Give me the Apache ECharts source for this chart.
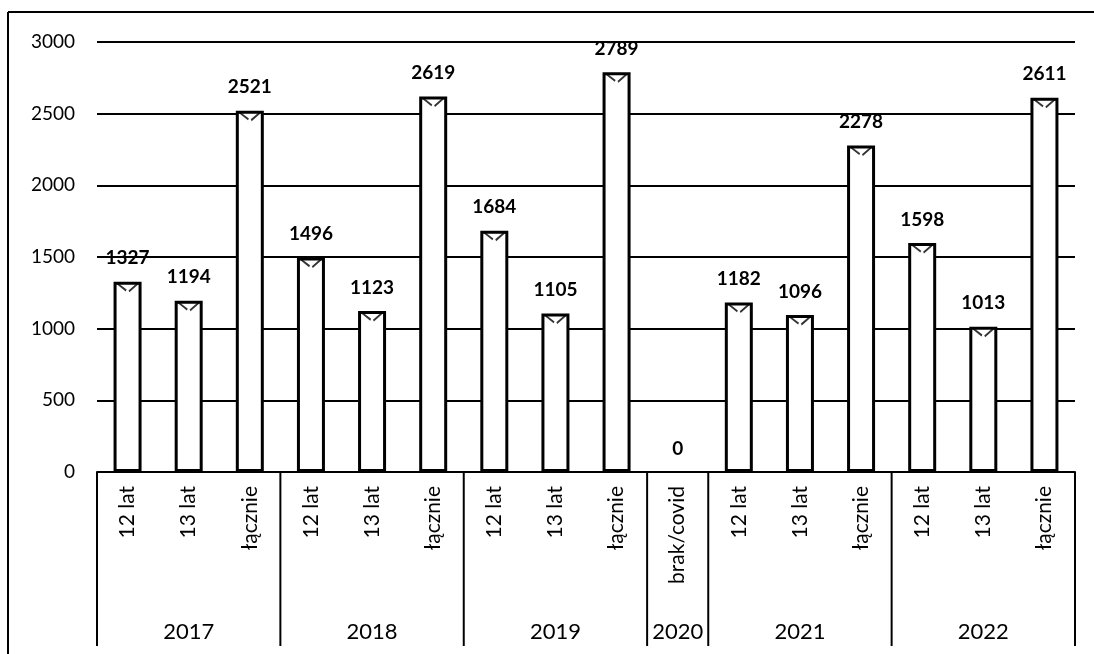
<!DOCTYPE html>
<html><head><meta charset="utf-8">
<script src="https://cdn.jsdelivr.net/npm/echarts@6/dist/echarts.min.js"></script>
<style>html,body{margin:0;padding:0;background:#fff}#c{width:1094px;height:654px}</style>
</head><body><div id="c"></div>
<script>
const subLabels = ['12 lat','13 lat','łącznie','12 lat','13 lat','łącznie','12 lat','13 lat','łącznie','brak/covid','12 lat','13 lat','łącznie','12 lat','13 lat','łącznie'];
const values = [1327,1194,2521,1496,1123,2619,1684,1105,2789,0,1182,1096,2278,1598,1013,2611];
const groups = ['2017','2018','2019','2020','2021','2022'];
const groupSizes = [3,3,3,1,3,3];
const yTicks = [0,500,1000,1500,2000,2500,3000];

const FONT = 'Lato, "Open Sans", sans-serif';
const chart = echarts.init(document.getElementById('c'));
const cats = subLabels.map((s,i)=>i+'|'+s);

chart.setOption({
  animation:false,
  backgroundColor:'#fff',
  grid:{left:97,right:19,top:42,bottom:182},
  xAxis:{type:'category',data:cats,
    axisLine:{lineStyle:{color:'#000',width:2}},
    axisTick:{show:false},
    axisLabel:{rotate:90,margin:14,fontFamily:FONT,fontSize:21,color:'#000',
      formatter:v=>v.split('|')[1]}},
  yAxis:{type:'value',min:yTicks[0],max:yTicks[yTicks.length-1],interval:500,
    axisLine:{show:false},axisTick:{show:false},
    splitLine:{lineStyle:{color:'#000',width:2}},
    axisLabel:{margin:22,fontFamily:FONT,fontSize:19,color:'#000',formatter:v=>String(v)}},
  series:[{type:'bar',data:values.map(v=>v===0?{value:v,itemStyle:{borderWidth:0}}:v),barWidth:28,z:3,
    itemStyle:{color:'#fff',borderColor:'#000',borderWidth:3},
    label:{show:true,position:'top',distance:14,fontFamily:FONT,fontWeight:'bold',fontSize:19,color:'#000'}},
   {type:'scatter',data:values.map((v,i)=>[cats[i],v>0?v:null]),z:4,
    symbol:'path://M0,0 L3,0 L12,7 L11,9 Z M26,0 L23,0 L14,8 L15,10 Z',
    symbolSize:[24,9],symbolOffset:[0,6],
    itemStyle:{color:'#000'},silent:true}]
});

function drawExtras(){
  const g=[];
  g.push({type:'line',shape:{x1:8,y1:12,x2:1094,y2:12},style:{stroke:'#000',lineWidth:2}});
  g.push({type:'line',shape:{x1:8,y1:12,x2:8,y2:654},style:{stroke:'#000',lineWidth:2}});
  const y0 = chart.convertToPixel({yAxisIndex:0},0);
  const bw = chart.convertToPixel({xAxisIndex:0},cats[1]) - chart.convertToPixel({xAxisIndex:0},cats[0]);
  let idx=0;
  const edges=[];
  for(let k=0;k<groups.length;k++){
    const start=idx, end=idx+groupSizes[k]-1;
    const xs=chart.convertToPixel({xAxisIndex:0},cats[start])-bw/2;
    const xe=chart.convertToPixel({xAxisIndex:0},cats[end])+bw/2;
    if(k===0) edges.push(xs);
    edges.push(xe);
    g.push({type:'text',style:{text:groups[k],x:(xs+xe)/2,y:y0+160,align:'center',verticalAlign:'middle',
      fontFamily:FONT,fontSize:22,fill:'#000'}});
    idx+=groupSizes[k];
  }
  edges.forEach(x=>g.push({type:'line',shape:{x1:x,y1:y0,x2:x,y2:y0+174},style:{stroke:'#000',lineWidth:2}}));
  chart.setOption({graphic:g});
}
drawExtras();
</script></body></html>
